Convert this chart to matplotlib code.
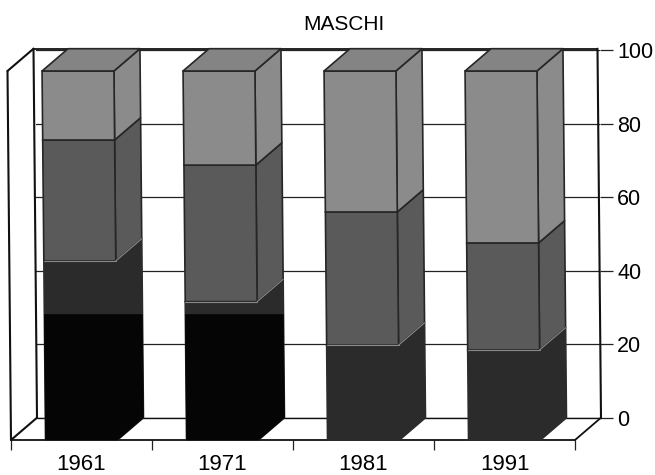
import matplotlib
matplotlib.use('Agg')
import matplotlib.pyplot as plt
from matplotlib.transforms import Affine2D

plt.rcParams['font.family'] = ['Liberation Sans', 'DejaVu Sans']

years = ['1961', '1971', '1981', '1991']
dark_vals = [48.5, 37.5, 25.7, 24.4]
mid_vals = [32.8, 37.0, 36.1, 29.0]
light_vals = [18.7, 25.5, 38.2, 46.6]
black_vals = [34.0, 34.0, 0, 0]
y_ticks = [0, 20, 40, 60, 80, 100]

W, H = 655, 475
BAR_W = 0.51
DX = 26 / 141    # depth of the box, in category units
DY = 22.3 / 3.69  # depth of the box, in value units
SHEAR = -(3.5 / 141) / 100  # the scan leans a little


def rect(left, right, top, bottom):
    return [left / W, 1 - bottom / H, (right - left) / W, (bottom - top) / H]


def pt(x, y, deep=0):
    return x + SHEAR * y + deep * DX, y + deep * DY


def poly(ax, pts, fc, ec, lw=1.2, z=3):
    xs, ys = zip(*pts)
    ax.fill(xs, ys, facecolor=fc, edgecolor=ec, linewidth=lw, zorder=z, clip_on=False, joinstyle='round')


def line(ax, a, b, lw=1.0, color='#111111', z=2):
    ax.plot([a[0], b[0]], [a[1], b[1]], color=color, lw=lw, zorder=z, clip_on=False, solid_capstyle='round')


fig = plt.figure(figsize=(W / 100, H / 100), dpi=100)

# back wall, carries the value axis and the grid
back = fig.add_axes(rect(36, 600, 50, 417.7))
back.set_ylim(0, 100)
back.set_xticks([])
back.set_yticks(y_ticks)
back.yaxis.tick_right()
back.tick_params(axis='y', length=9, width=0.9, pad=3.5, labelsize=15.5, color='#222222')
back.grid(True, axis='y', color='#222222', lw=0.9)
back.set_axisbelow(True)
for s in back.spines.values():
    s.set_visible(False)

# front plane, bars live here
ax = fig.add_axes(rect(11, 575, 71, 440))
ax.patch.set_visible(False)
ax.set_xlim(0, 4)
ax.set_ylim(0, 100)
for s in ax.spines.values():
    s.set_visible(False)
ax.set_yticks([])
ax.set_xticks([0.5, 1.5, 2.5, 3.5])
ax.set_xticklabels(years, fontsize=16)
ax.set_xticks([0, 1, 2, 3, 4], minor=True)
ax.tick_params(axis='x', which='major', length=0, pad=10)
ax.tick_params(axis='x', which='minor', length=7, width=0.9, color='#222222')

# walls and floor
line(ax, pt(0, 100), pt(0, 0), 1.5)
line(ax, pt(0, 100), pt(0, 100, 1), 1.5)
line(ax, pt(0, 100, 1), pt(0, 0, 1), 1.5)
line(ax, pt(0, 100, 1), pt(4, 100, 1), 1.3)
line(ax, pt(4, 100, 1), pt(4, 0, 1), 1.5)
line(ax, pt(0, 0), pt(4, 0), 1.3)
line(ax, pt(0, 0), pt(0, 0, 1), 1.5)
line(ax, pt(4, 0), pt(4, 0, 1), 1.3)
line(ax, pt(0, 0, 1), pt(4, 0, 1), 1.0)

shear = Affine2D.from_values(1, 0, SHEAR, 1, 0, 0) + ax.transData

DARK, MID, LIGHT, BLACK = '#2b2b2b', '#5a5a5a', '#8b8b8b', '#050505'
EDGE = '#262626'

centers = [i + 0.5 for i in range(4)]
bottom = [0, 0, 0, 0]
for vals, col, ec in [(dark_vals, DARK, DARK), (mid_vals, MID, EDGE), (light_vals, LIGHT, EDGE)]:
    ax.bar(centers, vals, BAR_W, bottom=bottom, color=col, edgecolor=ec, linewidth=1.2,
           transform=shear, zorder=4, clip_on=False)
    for i, c in enumerate(centers):
        xr = c + BAR_W / 2
        lo, hi = bottom[i], bottom[i] + vals[i]
        poly(ax, [pt(xr, lo), pt(xr, lo, 1), pt(xr, hi, 1), pt(xr, hi)], col, ec)
    bottom = [b + v for b, v in zip(bottom, vals)]

# top faces and the light seam over the dark part
for i in range(4):
    xl, xr = centers[i] - BAR_W / 2, centers[i] + BAR_W / 2
    top = bottom[i]
    poly(ax, [pt(xl, top), pt(xl, top, 1), pt(xr, top, 1), pt(xr, top)], '#848484', EDGE, z=5)
    d = dark_vals[i]
    line(ax, pt(xl, d), pt(xr, d), 0.8, '#8a8a8a', 6)
    line(ax, pt(xr, d), pt(xr, d, 1), 0.8, '#8a8a8a', 6)

# the bottom of the two older bars printed solid black, flat across front and side
for i, b in enumerate(black_vals):
    if b == 0:
        continue
    xl, xr = centers[i] - BAR_W / 2, centers[i] + BAR_W / 2
    p = [pt(xl, 0), pt(xr, 0), pt(xr, 0, 1), (pt(xr, 0, 1)[0] + SHEAR * b, b), pt(xl, b)]
    poly(ax, p, BLACK, BLACK, 0.5, 7)

fig.text(344 / W, 1 - 25 / H, 'MASCHI', ha='center', va='center', fontsize=15)

fig.savefig('out.png', dpi=100)
